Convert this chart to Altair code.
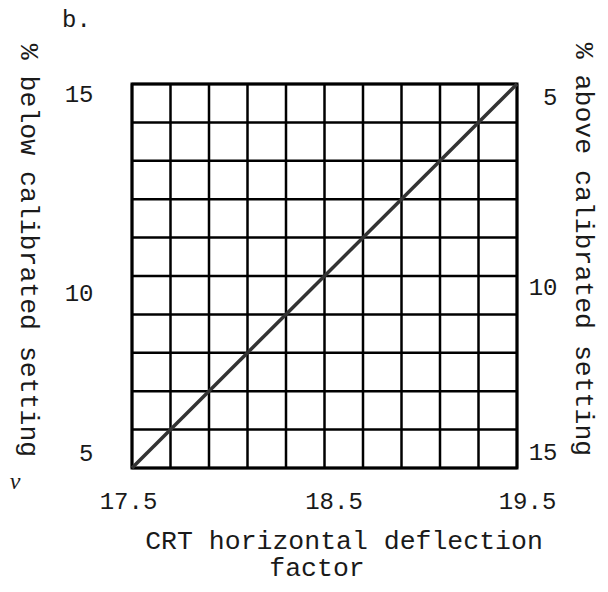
import altair as alt
import pandas as pd

# ---- data ----
x_line = [17.5, 19.5]
below_line = [5, 15]
above_line = [15, 5]
x_grid = [17.5, 17.7, 17.9, 18.1, 18.3, 18.5, 18.7, 18.9, 19.1, 19.3, 19.5]
y_grid = [5, 6, 7, 8, 9, 10, 11, 12, 13, 14, 15]
x_ticks = [17.5, 18.5, 19.5]
below_ticks = [5, 10, 15]
above_ticks = [5, 10, 15]
panel_label = ["b."]
x_title_line2 = ["factor"]
stray_mark = ["v"]

FONT = "Liberation Mono"
INK = "#1a1a1a"

df = pd.DataFrame({"x": x_line, "below": below_line, "above": above_line})
gx = pd.DataFrame({"gx": x_grid})
gy = pd.DataFrame({"gy": y_grid})

def xs():
    return alt.Scale(domain=[17.5, 19.5], nice=False, zero=False)

def ys(rev=False):
    if rev:
        return alt.Scale(domain=[5, 15], nice=False, zero=False, reverse=True)
    return alt.Scale(domain=[5, 15], nice=False, zero=False)

def x_axis():
    return alt.Axis(
        values=x_ticks, grid=False, ticks=False, tickSize=0, domain=False, labelOverlap=False,
        labelExpr="format(datum.value, '.1f')",
        labelOffset={"expr": "datum.value < 18 ? -4 : (datum.value < 19 ? 9 : 10)"},
        labelPadding=33, labelBaseline="middle", labelAlign="center",
        labelFont=FONT, labelFontSize=24, labelColor=INK,
        title="CRT horizontal deflection", titleX=211.5, titleY=72,
        titleAlign="center", titleBaseline="middle", titleAngle=0,
        titleFont=FONT, titleFontSize=26.5, titleFontWeight="normal", titleColor=INK,
    )

y_left_axis = alt.Axis(
    orient="left", values=below_ticks, grid=False, ticks=False, tickSize=0, domain=False,
    labelOverlap=False,
    labelExpr="format(datum.value, 'd')",
    labelOffset={"expr": "datum.value > 14 ? 10 : (datum.value > 9 ? 17 : -15)"},
    labelPadding=39, labelBaseline="middle", labelAlign="right",
    labelFont=FONT, labelFontSize=24, labelColor=INK,
    title="% below calibrated setting", titleAngle=90, titleX=-112, titleY=166,
    titleAlign="center", titleBaseline="alphabetic",
    titleFont=FONT, titleFontSize=26.5, titleFontWeight="normal", titleColor=INK,
)

y_right_axis = alt.Axis(
    orient="right", values=above_ticks, grid=False, ticks=False, tickSize=0, domain=False,
    labelOverlap=False,
    labelExpr="format(datum.value, 'd')",
    labelOffset={"expr": "datum.value < 6 ? 13 : (datum.value < 11 ? 11 : -16)"},
    labelPadding=40, labelBaseline="middle", labelAlign="right",
    labelFont=FONT, labelFontSize=24, labelColor=INK,
    title="% above calibrated setting", titleAngle=90, titleX=58, titleY=165,
    titleAlign="center", titleBaseline="alphabetic",
    titleFont=FONT, titleFontSize=26.5, titleFontWeight="normal", titleColor=INK,
)

vgrid = alt.Chart(gx).mark_rule(color="black", strokeWidth=2.5).encode(
    x=alt.X("gx:Q", scale=xs(), axis=x_axis())
)
hgrid = alt.Chart(gy).mark_rule(color="black", strokeWidth=2.5).encode(
    y=alt.Y("gy:Q", scale=ys(), axis=None)
)

line = alt.Chart(df).mark_line(color="#333333", strokeWidth=3.5).encode(
    x=alt.X("x:Q", scale=xs(), axis=x_axis()),
    y=alt.Y("below:Q", scale=ys(), axis=y_left_axis),
)

right = alt.Chart(df).mark_line(opacity=0).encode(
    x=alt.X("x:Q", scale=xs(), axis=x_axis()),
    y=alt.Y("above:Q", scale=ys(True), axis=y_right_axis),
)

lbl = alt.Chart(pd.DataFrame({"t": panel_label})).mark_text(
    font=FONT, fontSize=24, color=INK, align="left", baseline="alphabetic"
).encode(text="t:N", x=alt.value(-70), y=alt.value(-57))

fac = alt.Chart(pd.DataFrame({"t": x_title_line2})).mark_text(
    font=FONT, fontSize=26.5, color=INK, align="center", baseline="alphabetic"
).encode(text="t:N", x=alt.value(185), y=alt.value(492))

stray = alt.Chart(pd.DataFrame({"t": stray_mark})).mark_text(
    font="Liberation Serif", fontStyle="italic", fontSize=24, color=INK,
    align="center", baseline="middle"
).encode(text="t:N", x=alt.value(-117), y=alt.value(398))

chart = alt.layer(vgrid, hgrid, line, right, lbl, fac, stray).resolve_scale(
    y="independent"
).properties(
    width=385, height=384,
    padding={"left": 124, "top": 76, "right": 83, "bottom": 116},
    autosize=alt.AutoSizeParams(type="none"),
).configure_view(stroke="black", strokeWidth=3)

chart.save("out.html", embed_options={"renderer": "svg", "actions": False})
